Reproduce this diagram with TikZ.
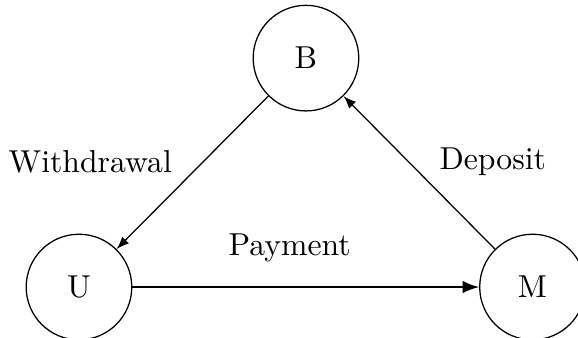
\documentclass[tikz,border=0pt]{standalone}
\usetikzlibrary{arrows}
\begin{document}
\begin{tikzpicture}
	\useasboundingbox (0,0) rectangle (6.404,3.734);
	\tikzset{party/.style={draw,circle,minimum size=1.17cm,inner sep=0pt}}

	%parties
	\node[party] (bank) at (3.39,3.09) {B}; %bank
	\node[party] (user) at (0.875,0.554) {U}; %user
	\node[party] (merchant) at (5.90,0.554) {M}; %merchant

	%flows
	\draw[-latex] (bank) -- (user); %withdrawal
	\draw[-latex] (merchant) -- (bank); %deposit
	\draw[-latex,thick] (user) -- (merchant); %payment

	%labels
	\node[] (withdrawal) at (1.0,1.94) {Withdrawal}; %withdrawal label
	\node[] (deposit) at (5.46,1.94) {Deposit}; %deposit label
	\node[] (payment) at (3.21,0.986) {Payment}; %payment label
\end{tikzpicture}
\end{document}
